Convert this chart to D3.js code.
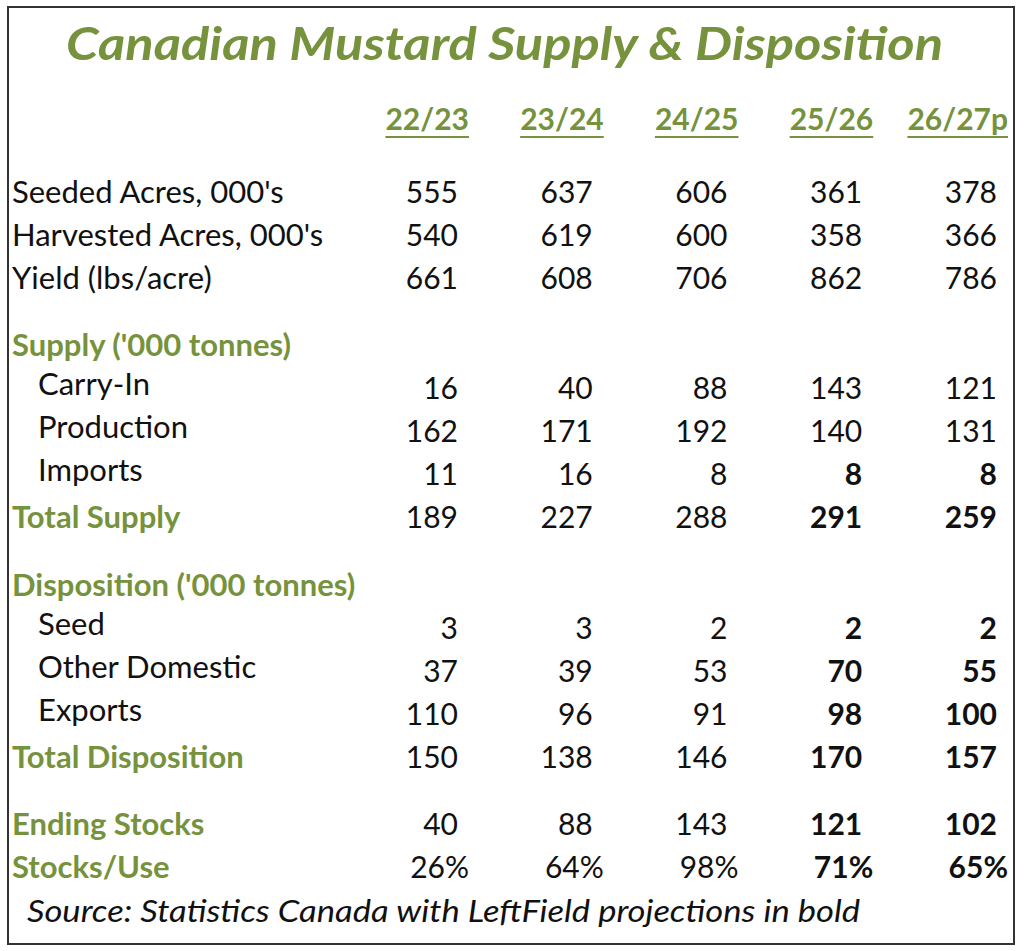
<!DOCTYPE html>
<html>
<head>
<meta charset="utf-8">
<script src="https://d3js.org/d3.v7.min.js"></script>
<style>
  body { margin: 0; background: #fff; }
  text { font-family: Lato, "Open Sans", sans-serif; }
</style>
</head>
<body>
<div id="chart"></div>
<script>
var years = ["22/23", "23/24", "24/25", "25/26", "26/27p"];
var rowLabels = ["Seeded Acres, 000's", "Harvested Acres, 000's", "Yield (lbs/acre)",
  "Supply ('000 tonnes)", "Carry-In", "Production", "Imports", "Total Supply",
  "Disposition ('000 tonnes)", "Seed", "Other Domestic", "Exports", "Total Disposition",
  "Ending Stocks", "Stocks/Use"];
// kind: p = plain, h = green heading, i = indented, t = green total
var rowKinds = ["p", "p", "p", "h", "i", "i", "i", "t", "h", "i", "i", "i", "t", "t", "t"];
var rowGaps = [0, 0, 0, 1, 0, 0, 0, 0, 1, 0, 0, 0, 0, 1, 0];
var rowValues = [
  ["555", "637", "606", "361", "378"],
  ["540", "619", "600", "358", "366"],
  ["661", "608", "706", "862", "786"],
  null,
  ["16", "40", "88", "143", "121"],
  ["162", "171", "192", "140", "131"],
  ["11", "16", "8", "8", "8"],
  ["189", "227", "288", "291", "259"],
  null,
  ["3", "3", "2", "2", "2"],
  ["37", "39", "53", "70", "55"],
  ["110", "96", "91", "98", "100"],
  ["150", "138", "146", "170", "157"],
  ["40", "88", "143", "121", "102"],
  ["26%", "64%", "98%", "71%", "65%"]
];
// first row index from which the projected columns are bold
var boldFromRow = 6;
var projectedCols = ["25/26", "26/27p"];

var W = 1024, H = 951, green = "#76923c";
var svg = d3.select("#chart").append("svg").attr("width", W).attr("height", H);

svg.append("rect").attr("x", 8).attr("y", 7).attr("width", 1006).attr("height", 937)
  .attr("fill", "#fff").attr("stroke", "#333").attr("stroke-width", 2);

svg.append("text").attr("x", 66).attr("y", 60)
  .attr("font-size", 45).attr("font-weight", "bold").attr("font-style", "italic")
  .attr("textLength", 877).attr("lengthAdjust", "spacingAndGlyphs")
  .attr("fill", green).text("Canadian Mustard Supply & Disposition");

// column right edges
var x = d3.scalePoint().domain(years).range([458, 997]);

// row positions: cumulative units with section gaps
var units = [];
var acc = 0;
rowGaps.forEach(function (g, i) { acc += (i === 0 ? 0 : 1) + g * 0.57; units.push(acc); });
var y = d3.scaleLinear().domain([0, units[units.length - 1]]).range([193, 868]);

var hdr = svg.append("g");
years.forEach(function (yr) {
  var t = hdr.append("text").attr("x", x(yr) + 11).attr("y", 130).attr("text-anchor", "end")
    .attr("font-size", 30).attr("font-weight", "bold").attr("fill", green).text(yr);
  var bb = t.node().getBBox();
  hdr.append("line").attr("x1", bb.x).attr("x2", bb.x + bb.width)
    .attr("y1", 137).attr("y2", 137).attr("stroke", green).attr("stroke-width", 2);
});

rowLabels.forEach(function (lab, i) {
  var k = rowKinds[i];
  var cy = y(units[i]) + 10;
  svg.append("text").attr("x", k === "i" ? 38 : 12).attr("y", k === "i" ? cy - 4 : cy)
    .attr("font-size", 31)
    .attr("font-weight", (k === "h" || k === "t") ? "bold" : "normal")
    .attr("fill", (k === "h" || k === "t") ? green : "#111")
    .text(lab);
  if (!rowValues[i]) return;
  rowValues[i].forEach(function (v, j) {
    var yr = years[j];
    var isPct = v.indexOf("%") >= 0;
    var bold = i >= boldFromRow && projectedCols.indexOf(yr) >= 0;
    svg.append("text").attr("x", x(yr) + (isPct ? 11 : 0)).attr("y", cy)
      .attr("text-anchor", "end").attr("font-size", 30)
      .attr("font-weight", bold ? "bold" : "normal").attr("fill", "#111").text(v);
  });
});

svg.append("text").attr("x", 27).attr("y", 922).attr("font-size", 30)
  .attr("font-style", "italic").attr("fill", "#111")
  .attr("textLength", 833).attr("lengthAdjust", "spacingAndGlyphs")
  .text("Source: Statistics Canada with LeftField projections in bold");
</script>
</body>
</html>
